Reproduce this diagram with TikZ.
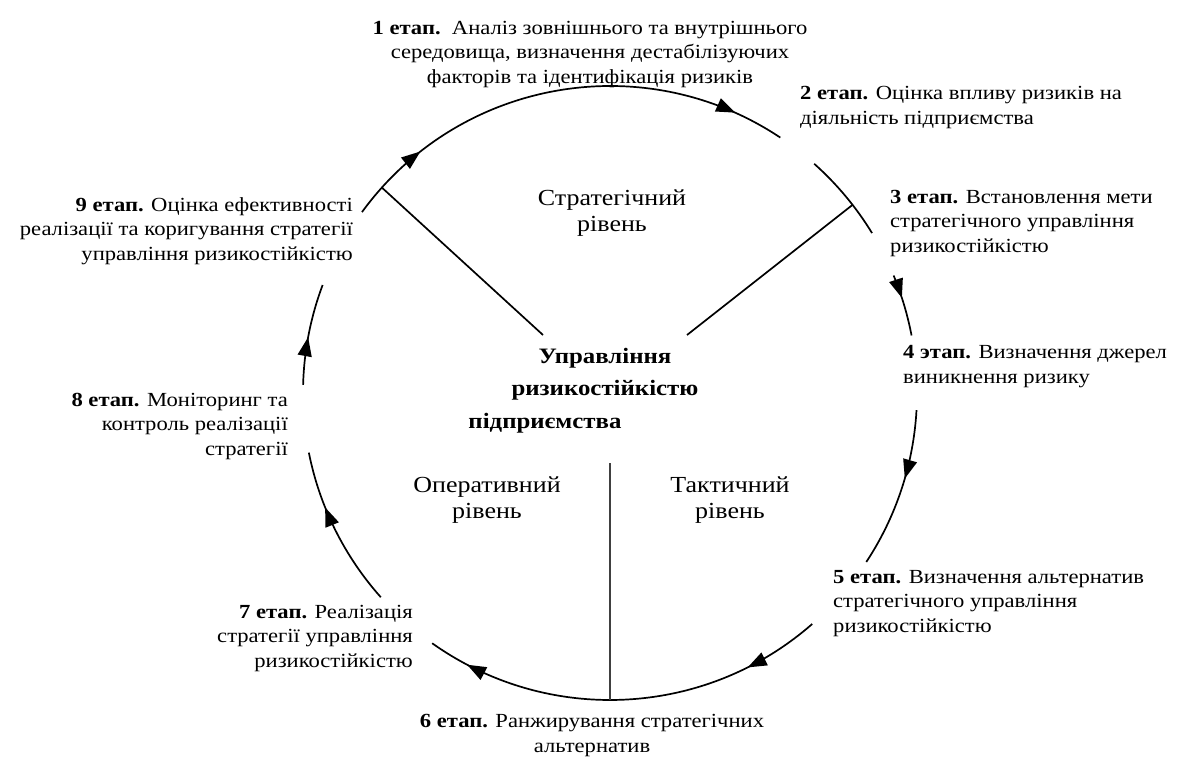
\documentclass[tikz,border=0pt]{standalone}
\usepackage{fontspec}
\setmainfont{Liberation Serif}[FakeStretch=1.13]
\usetikzlibrary{arrows.meta,decorations.markings}
\begin{document}
\begin{tikzpicture}[x=1pt,y=1pt,
  cyc/.style={line width=1.7pt},
  tri/.tip={Triangle[length=19pt,width=14pt]},
  arrowat/.style={postaction={decorate,decoration={markings,mark=at position #1 with {\arrow{tri}}}}},
  stage/.style={font=\fontsize{20}{24.5}\selectfont, inner sep=0pt},
  level/.style={font=\fontsize{23}{26}\selectfont, inner sep=0pt, align=center, anchor=base},
]
\useasboundingbox (0,0) rectangle (1184,-758);
\coordinate (c) at (610,-393);
\def\R{307}
% cycle arcs
\draw[cyc, arrowat=0.18, arrowat=0.89] ([shift={(143.9:\R)}]c) arc[start angle=143.9, end angle=56.3, radius=\R];
\draw[cyc] ([shift={(48.3:\R)}]c) arc[start angle=48.3, end angle=31.4, radius=\R];
\draw[cyc, arrowat=0.38] ([shift={(22.5:\R)}]c) arc[start angle=22.5, end angle=10.8, radius=\R];
\draw[cyc, arrowat=0.43] ([shift={(-3.2:\R)}]c) arc[start angle=-3.2, end angle=-33.4, radius=\R];
\draw[cyc, arrowat=0.19, arrowat=0.9] ([shift={(-48.8:\R)}]c) arc[start angle=-48.8, end angle=-125.4, radius=\R];
\draw[cyc, arrowat=0.65] ([shift={(-138.3:\R)}]c) arc[start angle=-138.3, end angle=-168.8, radius=\R];
\draw[cyc, arrowat=0.47] ([shift={(178.5:\R)}]c) arc[start angle=178.5, end angle=159.4, radius=\R];
% spokes
\coordinate (sl) at (543,-335);
\coordinate (sr) at (687,-335);
\coordinate (sv) at (610,-463);
\coordinate (al) at ([shift={(138:\R)}]c);
\coordinate (ar) at ([shift={(37.8:\R)}]c);
\coordinate (ab) at ([shift={(-90:\R)}]c);
\draw[cyc] (sl) -- (al);
\draw[cyc] (sr) -- (ar);
\draw[line width=1.7pt, black!75] (sv) -- (ab);
% centre (base anchor = last line baseline)
\node[font=\fontsize{22}{32.5}\selectfont\bfseries, inner sep=0pt, align=center, anchor=base] (mgmt) at (605,-428)
  {Управління\\ ризикостійкістю\\ підприємства\hspace*{120pt}};
% levels
\node[level] (lstrat) at (612,-231) {Стратегічний\\ рівень};
\node[level] (loper) at (487,-518) {Оперативний\\ рівень};
\node[level] (ltact) at (730,-518) {Тактичний\\ рівень};
% stages
\node[stage, align=center, anchor=base] (s1) at (590,-83)
  {\textbf{1 етап.}\ \ Аналіз зовнішнього та внутрішнього\\ середовища, визначення дестабілізуючих\\ факторів та ідентифікація ризиків};
\node[stage, align=left, anchor=base west] (s2) at (800,-124)
  {\textbf{2 етап.} Оцінка впливу ризиків на\\ діяльність підприємства};
\node[stage, align=left, anchor=base west] (s3) at (890,-252)
  {\textbf{3 етап.} Встановлення мети\\ стратегічного управління\\ ризикостійкістю};
\node[stage, align=left, anchor=base west] (s4) at (903,-383)
  {\textbf{4 этап.} Визначення джерел\\ виникнення ризику};
\node[stage, align=left, anchor=base west] (s5) at (833,-632)
  {\textbf{5 етап.} Визначення альтернатив\\ стратегічного управління\\ ризикостійкістю};
\node[stage, align=center, anchor=base] (s6) at (592,-752)
  {\textbf{6 етап.} Ранжирування стратегічних\\ альтернатив};
\node[stage, align=right, anchor=base east] (s7) at (413,-667)
  {\textbf{7 етап.} Реалізація\\ стратегії управління\\ ризикостійкістю};
\node[stage, align=right, anchor=base east] (s8) at (288,-455)
  {\textbf{8 етап.} Моніторинг та\\ контроль реалізації\\ стратегії};
\node[stage, align=right, anchor=base east] (s9) at (353,-260)
  {\textbf{9 етап.} Оцінка ефективності\\ реалізації та коригування стратегії\\ управління ризикостійкістю};
\end{tikzpicture}
\end{document}
